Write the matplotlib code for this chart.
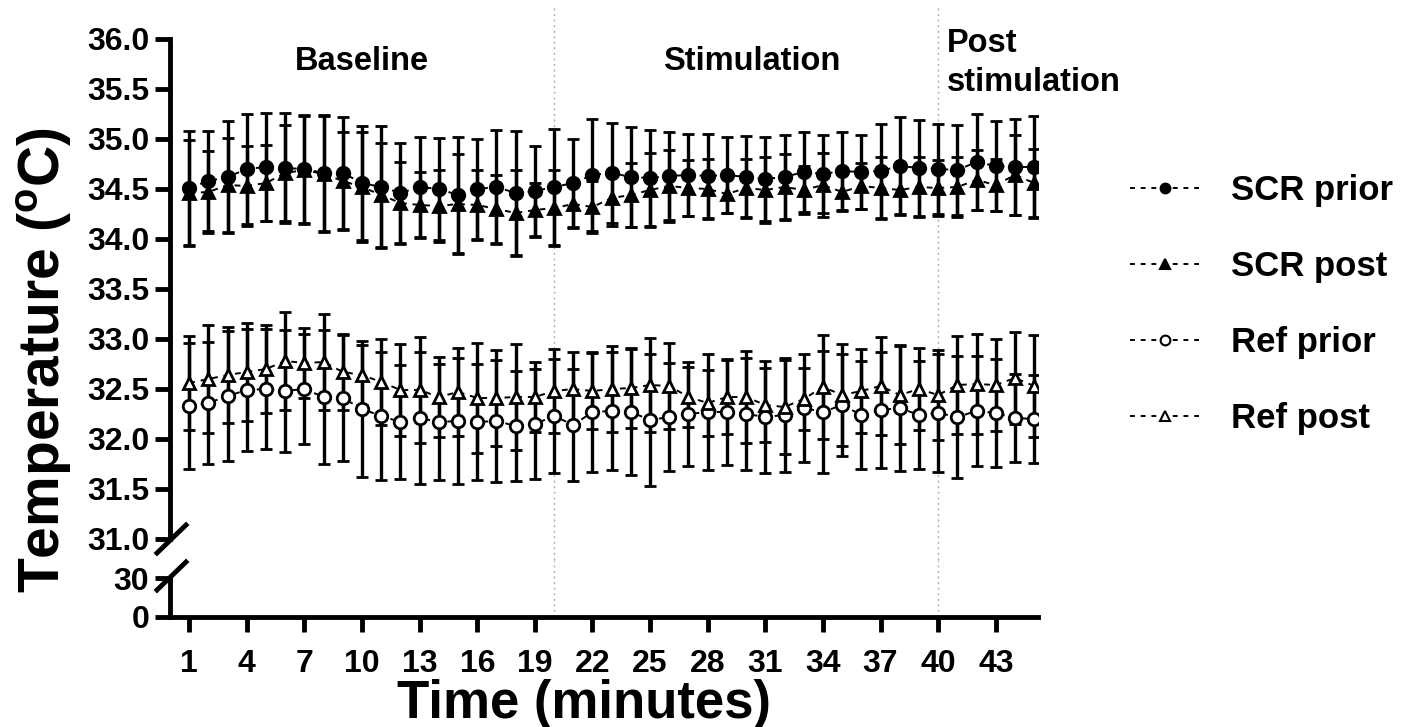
import matplotlib
matplotlib.use("Agg")
import numpy as np
import matplotlib.pyplot as plt
from matplotlib.lines import Line2D

plt.rcParams['font.family'] = ['Liberation Sans', 'DejaVu Sans']
plt.rcParams['font.weight'] = 'bold'
plt.rcParams['mathtext.fontset'] = 'custom'
plt.rcParams['mathtext.rm'] = 'Liberation Sans:bold'
plt.rcParams['mathtext.bf'] = 'Liberation Sans:bold'

minutes = np.arange(1, 46)

scr_prior = [34.51, 34.58, 34.62, 34.70, 34.72, 34.71, 34.70, 34.66, 34.66, 34.56,
             34.52, 34.46, 34.52, 34.50, 34.44, 34.50, 34.52, 34.46, 34.48, 34.52,
             34.56, 34.64, 34.66, 34.62, 34.61, 34.63, 34.64, 34.63, 34.64, 34.62,
             34.60, 34.62, 34.67, 34.65, 34.68, 34.67, 34.68, 34.73, 34.71, 34.70,
             34.69, 34.77, 34.73, 34.72, 34.72]
scr_prior_sd = [0.57, 0.50, 0.56, 0.55, 0.54, 0.55, 0.54, 0.58, 0.56, 0.57,
                0.61, 0.50, 0.50, 0.51, 0.58, 0.50, 0.57, 0.62, 0.45, 0.58,
                0.44, 0.56, 0.50, 0.50, 0.48, 0.44, 0.41, 0.42, 0.38, 0.41,
                0.42, 0.42, 0.40, 0.39, 0.39, 0.37, 0.47, 0.49, 0.48, 0.45,
                0.45, 0.48, 0.45, 0.48, 0.51]

scr_post = [34.46, 34.47, 34.54, 34.53, 34.56, 34.66, 34.69, 34.65, 34.58, 34.52,
            34.44, 34.36, 34.34, 34.33, 34.35, 34.34, 34.30, 34.26, 34.29, 34.31,
            34.35, 34.32, 34.41, 34.44, 34.49, 34.53, 34.51, 34.50, 34.45, 34.51,
            34.49, 34.52, 34.49, 34.54, 34.47, 34.53, 34.51, 34.49, 34.52, 34.51,
            34.52, 34.59, 34.54, 34.64, 34.56]
scr_post_sd = [0.53, 0.41, 0.47, 0.40, 0.38, 0.48, 0.54, 0.58, 0.49, 0.55,
               0.52, 0.41, 0.33, 0.36, 0.50, 0.35, 0.34, 0.43, 0.27, 0.38,
               0.24, 0.26, 0.28, 0.32, 0.37, 0.36, 0.28, 0.30, 0.19, 0.29,
               0.33, 0.33, 0.24, 0.32, 0.19, 0.23, 0.31, 0.24, 0.30, 0.28,
               0.30, 0.30, 0.26, 0.40, 0.34]

ref_prior = [32.33, 32.36, 32.43, 32.49, 32.50, 32.48, 32.50, 32.42, 32.41, 32.30,
             32.23, 32.17, 32.21, 32.17, 32.18, 32.17, 32.18, 32.13, 32.15, 32.23,
             32.14, 32.27, 32.28, 32.27, 32.19, 32.22, 32.25, 32.27, 32.27, 32.25,
             32.22, 32.24, 32.31, 32.27, 32.34, 32.24, 32.29, 32.31, 32.24, 32.26,
             32.22, 32.28, 32.26, 32.21, 32.20]
ref_prior_sd = [0.63, 0.61, 0.65, 0.61, 0.60, 0.61, 0.55, 0.67, 0.63, 0.68,
                0.64, 0.57, 0.66, 0.58, 0.63, 0.58, 0.61, 0.55, 0.55, 0.57,
                0.56, 0.60, 0.59, 0.63, 0.66, 0.54, 0.52, 0.58, 0.53, 0.56,
                0.56, 0.57, 0.54, 0.61, 0.51, 0.54, 0.58, 0.63, 0.54, 0.59,
                0.61, 0.55, 0.54, 0.44, 0.44]

ref_post = [32.56, 32.60, 32.64, 32.67, 32.70, 32.78, 32.76, 32.77, 32.67, 32.64,
            32.57, 32.49, 32.49, 32.42, 32.47, 32.41, 32.41, 32.42, 32.42, 32.48,
            32.50, 32.48, 32.50, 32.51, 32.54, 32.53, 32.42, 32.36, 32.42, 32.42,
            32.34, 32.32, 32.40, 32.52, 32.44, 32.48, 32.53, 32.44, 32.50, 32.44,
            32.54, 32.55, 32.54, 32.61, 32.53]
ref_post_sd = [0.47, 0.54, 0.48, 0.49, 0.44, 0.49, 0.35, 0.48, 0.38, 0.30,
               0.43, 0.46, 0.53, 0.40, 0.44, 0.55, 0.48, 0.53, 0.35, 0.42,
               0.37, 0.38, 0.43, 0.40, 0.47, 0.43, 0.30, 0.33, 0.37, 0.46,
               0.37, 0.47, 0.31, 0.52, 0.51, 0.42, 0.49, 0.49, 0.41, 0.45,
               0.49, 0.50, 0.46, 0.46, 0.51]

labels = ['SCR prior', 'SCR post', 'Ref prior', 'Ref post']
phase_edges = [20, 40]

W, H = 1402, 727
fig = plt.figure(figsize=(W / 100, H / 100), dpi=100)

left = 170 / W
width = (1038 - 170) / W
ax = fig.add_axes([left, 1 - 560 / H, width, (560 - 5) / H])
axb = fig.add_axes([left, 1 - 617 / H, width, 57 / H])

dash = (0, (3, 3))
series = [
    (scr_prior, scr_prior_sd, 'o', 'black'),
    (scr_post, scr_post_sd, '^', 'black'),
    (ref_prior, ref_prior_sd, 'o', 'white'),
    (ref_post, ref_post_sd, '^', 'white'),
]
for vals, sd, mk, fc in series:
    ax.errorbar(minutes, vals, yerr=sd, fmt=mk, linestyle=dash, color='black',
                lw=1.4, elinewidth=2.4, capsize=4.5, capthick=2.4,
                ms=9, mfc=fc, mec='black', mew=2.0)

for a in (ax, axb):
    for xe in phase_edges:
        a.axvline(xe, color='#b0b0b0', ls=(0, (1.5, 2.5)), lw=1.0, zorder=0)
    a.set_xlim(0, 45.2)
    for s in ['top', 'right']:
        a.spines[s].set_visible(False)
    a.spines['left'].set_linewidth(3.5)
    a.tick_params(axis='y', width=3.5, length=11, labelsize=23, pad=4)

ax.set_ylim(30.79, 36.34)
ax.spines['bottom'].set_visible(False)
ax.spines['left'].set_bounds(31, 36)
ax.set_yticks(np.arange(31, 36.01, 0.5))
ax.set_yticklabels(['%.1f' % v for v in np.arange(31, 36.01, 0.5)])
ax.set_xticks([])

axb.set_ylim(0, 43.85)
axb.spines['left'].set_bounds(0, 30)
axb.spines['bottom'].set_linewidth(3.5)
axb.set_yticks([0, 30])
axb.set_xticks(np.arange(1, 45, 3))
axb.tick_params(axis='x', width=3.5, length=11, labelsize=23, pad=12)
axb.set_xlabel('Time (minutes)', fontsize=38, fontweight='bold')
axb.xaxis.set_label_coords((584 - 170) / 868, -1.08)

fig.text(45 / W, 1 - 360 / H, 'Temperature ($^{\\mathbf{o}}$C)', rotation=90,
         fontsize=41, fontweight='bold', ha='center', va='center')

# axis break marks
for yb in (539, 576):
    fig.add_artist(Line2D([157 / W, 186 / W], [1 - (yb + 14) / H, 1 - (yb - 14) / H],
                          color='black', lw=3.5))

ax.text(10, 35.78, 'Baseline', fontsize=23.5, fontweight='bold', ha='center', va='center')
ax.text(30.3, 35.78, 'Stimulation', fontsize=23.5, fontweight='bold', ha='center', va='center')
ax.text(40.45, 35.76, 'Post\nstimulation', fontsize=23.5, fontweight='bold',
        ha='left', va='center', linespacing=1.3)

handles = []
for vals, sd, mk, fc in series:
    handles.append(Line2D([], [], marker=mk, linestyle=(0, (2.5, 3)), color='black',
                          lw=1.4, ms=7, mfc=fc, mec='black', mew=1.5))
fig.legend(handles, labels, loc='upper left', bbox_to_anchor=(1116 / W, 1 - 160 / H),
           frameon=False, fontsize=25, handlelength=2.0, handletextpad=0.9,
           labelspacing=1.24, borderaxespad=0)

fig.savefig('out.png', dpi=100)
